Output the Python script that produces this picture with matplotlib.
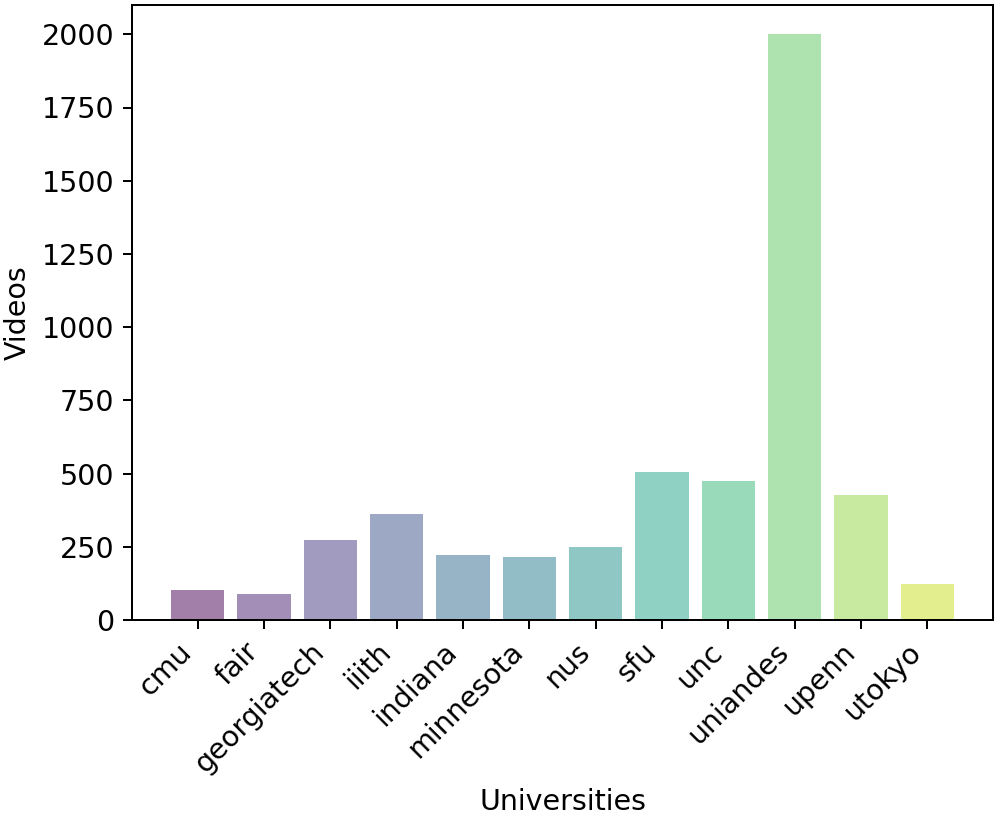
import matplotlib
matplotlib.use("Agg")
import matplotlib.pyplot as plt
import numpy as np

universities = ["cmu", "fair", "georgiatech", "iiith", "indiana", "minnesota",
                "nus", "sfu", "unc", "uniandes", "upenn", "utokyo"]
videos = [102, 88, 272, 362, 222, 214, 248, 507, 476, 2000, 426, 124]

plt.rcParams['font.size'] = 11.4
colors = plt.cm.viridis(np.arange(len(universities)) / len(universities))

fig = plt.figure(figsize=(997 / 180, 815 / 180), dpi=180)
ax = fig.add_subplot(111)
ax.bar(universities, videos, color=colors, alpha=0.5)
ax.set_xlabel("Universities")
ax.set_ylabel("Videos")
plt.setp(ax.get_xticklabels(), rotation=45, ha="right")
fig.subplots_adjust(left=132 / 997, right=993 / 997, top=1 - 5 / 815, bottom=1 - 620 / 815)
fig.savefig("out.png", dpi=180)
